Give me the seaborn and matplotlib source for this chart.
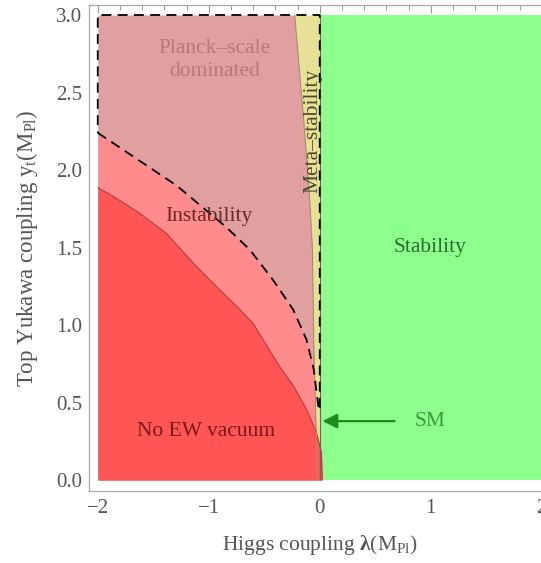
import matplotlib
matplotlib.use("Agg")
import matplotlib.pyplot as plt
import seaborn as sns
import numpy as np

# lower edge of the "Planck-scale dominated" region (dashed contour)
dash_x = [-2.0, -1.29, -0.84, -0.63, -0.42, -0.24, -0.12, -0.054, -0.024, -0.01]
dash_y = [2.24, 1.90, 1.63, 1.486, 1.29, 1.10, 0.907, 0.714, 0.542, 0.457]

# upper edge of the "No EW vacuum" region
noew_x = [-2.0, -1.86, -1.62, -1.38, -1.14, -0.99, -0.72, -0.60, -0.48, -0.36, -0.24, -0.12, -0.03, 0.015, 0.024]
noew_y = [1.886, 1.83, 1.72, 1.59, 1.40, 1.29, 1.10, 1.01, 0.87, 0.73, 0.61, 0.457, 0.307, 0.18, 0.0]

# left edge of the meta-stability strip
meta_y = [3.0, 2.24, 1.81, 1.49, 0.91, 0.39, 0.30, 0.0]
meta_x = [-0.225, -0.135, -0.09, -0.066, -0.054, -0.036, -0.03, -0.02]

# SM point (arrow target)
sm_x, sm_y = 0.0, 0.38

x_min, x_max = -2.0, 2.0
y_min, y_max = 0.0, 3.0

sns.set_style("white")
plt.rcParams['font.family'] = ['Liberation Serif', 'DejaVu Serif']
plt.rcParams['mathtext.fontset'] = 'custom'
plt.rcParams['mathtext.rm'] = 'Liberation Serif'
plt.rcParams['mathtext.it'] = 'Liberation Serif:italic'
plt.rcParams['mathtext.bf'] = 'Liberation Serif:bold'

fig = plt.figure(figsize=(5.41, 5.63), dpi=100)
ax = fig.add_axes([0.1651, 0.1284, 0.8518, 0.8627])

c_green = '#8CFF8C'
c_pink = '#E0A0A0'
c_inst = '#FF8C8C'
c_yellow = '#E6E196'
c_red = '#FF5555'

# stability
ax.fill_between([0.0, x_max], y_min, y_max, color=c_green, lw=0)
# planck-scale dominated
ax.fill_betweenx(meta_y, x_min, meta_x, color=c_pink, lw=0)
# instability
ax.fill_between(dash_x, y_min, dash_y, color=c_inst, lw=0)
# meta-stability
ax.fill_betweenx(meta_y, meta_x, 0.0, color=c_yellow, lw=0)
# no EW vacuum
ax.fill_between(noew_x, y_min, noew_y, color=c_red, lw=0)

# region edges
sns.lineplot(x=noew_x, y=noew_y, sort=False, estimator=None, color='#B83A3A', lw=0.8, ax=ax)
sns.lineplot(x=meta_x, y=meta_y, sort=False, estimator=None, color='#9A9660', lw=0.8, ax=ax)
ax.plot([0.0, 0.0], [y_min, y_max], color='#666666', lw=0.8)

# dashed contour around the Planck-scale region
cont_x = dash_x + [0.0, 0.0, x_min, x_min]
cont_y = dash_y + [0.45, y_max, y_max, dash_y[0]]
sns.lineplot(x=cont_x, y=cont_y, sort=False, estimator=None, color='black', lw=1.3,
             linestyle=(0, (5.5, 3.5)), ax=ax)

# SM arrow
ax.annotate("", xy=(sm_x, sm_y), xytext=(0.70, sm_y),
            arrowprops=dict(arrowstyle='-|>', color='#1E8C1E', lw=1.6, mutation_scale=22))
ax.text(0.99, sm_y, "SM", color='#3A9A3A', fontsize=15.5, ha='center', va='center')

# region labels
ax.text(-0.95, 2.71, "Planck\u2013scale\ndominated", color='#B87878', fontsize=15.5,
        ha='center', va='center', linespacing=1.25)
ax.text(-1.0, 1.70, "Instability", color='#6A2626', fontsize=15.5, ha='center', va='center')
ax.text(-0.065, 2.25, "Meta\u2013stability", color='#4A4A28', fontsize=15.5, rotation=90,
        ha='center', va='center')
ax.text(0.99, 1.50, "Stability", color='#2E6B2E', fontsize=15.5, ha='center', va='center')
ax.text(-1.02, 0.31, "No EW vacuum", color='#7A1A1A', fontsize=15.5, ha='center', va='center')

ax.set_xlim(-2.076, 2.076)
ax.set_ylim(-0.069, 3.0645)
ax.set_xticks([-2, -1, 0, 1, 2])
ax.set_yticks([0.0, 0.5, 1.0, 1.5, 2.0, 2.5, 3.0])
ax.set_yticklabels(['0.0', '0.5', '1.0', '1.5', '2.0', '2.5', '3.0'])
ax.set_xticks(np.arange(-2.0, 2.01, 0.2), minor=True)
ax.set_yticks(np.arange(0.0, 3.01, 0.1), minor=True)
ax.tick_params(which='both', direction='in', top=True, right=True, color='#999999',
               labelcolor='#555555', labelsize=15)
ax.tick_params(which='major', length=5.5, width=0.8)
ax.tick_params(which='minor', length=3.6, width=0.7)
ax.tick_params(axis='x', pad=6)
ax.tick_params(axis='y', pad=5)
for s in ax.spines.values():
    s.set_color('#AAAAAA')
    s.set_linewidth(0.9)

ax.set_xlabel("Higgs coupling $\\mathbf{\u03bb}$(M$_{\\rm Pl}$)", fontsize=15.5, color='#555555',
              va='center')
ax.set_ylabel(r"Top Yukawa coupling y$_{\rm t}$(M$_{\rm Pl}$)", fontsize=16.5, color='#555555',
              va='center')
ax.xaxis.set_label_coords((320 - 89.3) / (550.1 - 89.3), -(545 - 490.7) / 485.7)
ax.yaxis.set_label_coords(-(89.3 - 27) / 460.8, 0.5)

fig.savefig("out.png", dpi=100)
